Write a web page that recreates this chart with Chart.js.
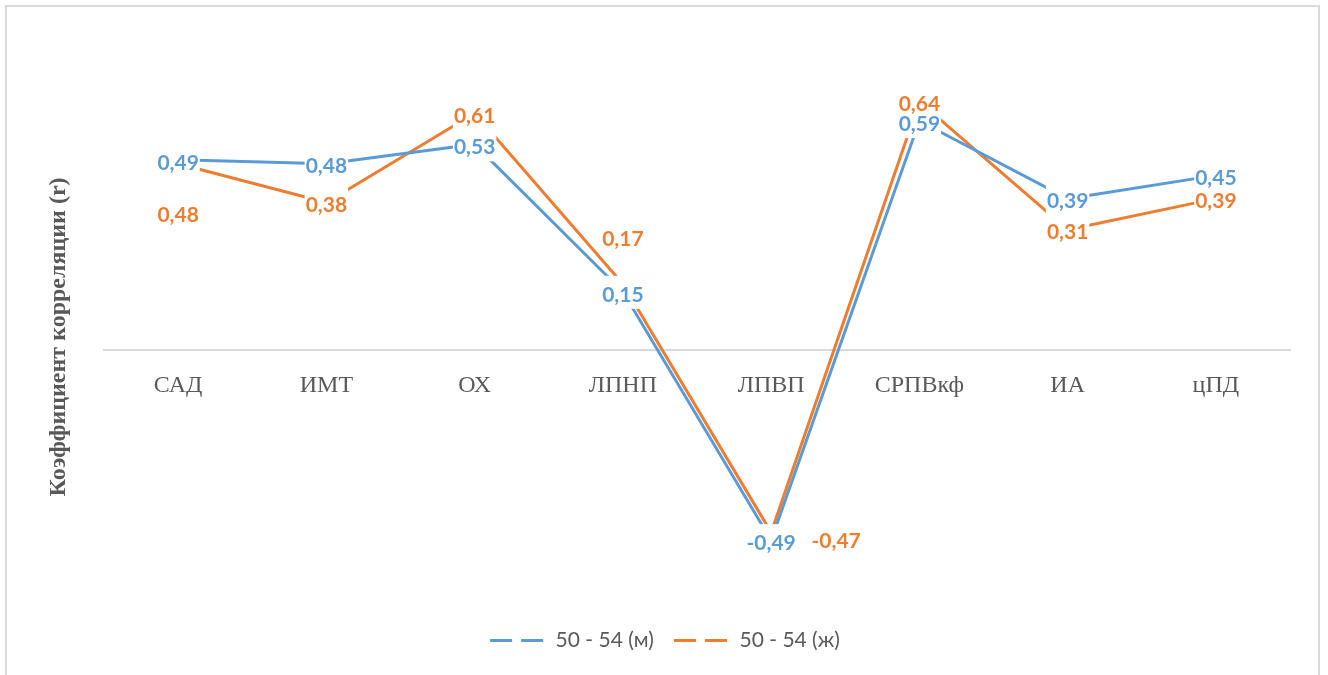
<!DOCTYPE html>
<html>
<head>
<meta charset="utf-8">
<script src="https://cdn.jsdelivr.net/npm/chart.js@4.4.1/dist/chart.umd.min.js"></script>
<style>
  html, body { margin: 0; padding: 0; background: #fff; }
  #frame {
    position: absolute; left: 5px; top: 5px;
    width: 1311px; height: 700px;
    border: 2px solid #dadada;
  }
  #box { position: absolute; left: 0; top: 0; width: 1328px; height: 675px; }
</style>
</head>
<body>
<div id="frame"></div>
<div id="box"><canvas id="corrChart"></canvas></div>
<script>
// Categories and correlation coefficients
const categories = ['САД', 'ИМТ', 'ОХ', 'ЛПНП', 'ЛПВП', 'СРПВкф', 'ИА', 'цПД'];
const menValues = [0.49, 0.48, 0.53, 0.15, -0.49, 0.59, 0.39, 0.45];
const womenValues = [0.48, 0.38, 0.61, 0.17, -0.47, 0.64, 0.31, 0.39];
const seriesNames = ['50 - 54 (м)', '50 - 54 (ж)'];

// Label nudges [dx, dy] in px, per series
const labelShift = [
  [[0, 0], [0, 0], [0, 0], [0, 0], [0, 0], [0, 0], [0, 0], [0, 0]],
  [[0, 49], [0, 0], [0, 0], [0, -48], [65, 6], [0, 0], [0, 0], [0, 0]]
];

const BLUE = '#5B9BD5';
const ORANGE = '#ED7D31';

// Value labels: white boxes first (they cut the lines), then the numbers
const valueLabels = {
  id: 'valueLabels',
  afterDatasetsDraw(chart) {
    const ctx = chart.ctx;
    ctx.save();
    ctx.font = 'bold 21px Lato';
    ctx.textAlign = 'center';
    ctx.textBaseline = 'middle';
    const items = [];
    chart.data.datasets.forEach((ds, di) => {
      chart.getDatasetMeta(di).data.forEach((pt, i) => {
        const txt = ds.data[i].toFixed(2).replace('.', ',');
        const [dx, dy] = labelShift[di][i];
        items.push({ txt, x: pt.x + dx, y: pt.y + dy, color: ds.borderColor });
      });
    });
    ctx.fillStyle = '#fff';
    items.forEach(it => {
      const w = ctx.measureText(it.txt).width + 2;
      ctx.fillRect(it.x - w / 2, it.y - 16, w, 33);
    });
    items.forEach(it => {
      ctx.fillStyle = it.color;
      ctx.fillText(it.txt, it.x, it.y + 3);
    });
    ctx.restore();
  }
};

const ctx = document.getElementById('corrChart').getContext('2d');

const corrChart = new Chart(ctx, {
  type: 'line',
  data: {
    labels: categories,
    datasets: [
      { label: seriesNames[0], data: menValues, borderColor: BLUE, backgroundColor: BLUE },
      { label: seriesNames[1], data: womenValues, borderColor: ORANGE, backgroundColor: ORANGE }
    ]
  },
  options: {
    responsive: true,
    maintainAspectRatio: false,
    animation: false,
    layout: { padding: { left: 40, right: 38, top: 64, bottom: 14 } },
    elements: {
      line: { borderWidth: 3, tension: 0, borderJoinStyle: 'round', borderCapStyle: 'round' },
      point: { radius: 0, hoverRadius: 0 }
    },
    scales: {
      x: {
        position: { y: 0 },
        offset: true,
        grid: { display: false, drawTicks: false },
        border: { display: true, color: '#d9d9d9', width: 2 },
        ticks: {
          padding: 21,
          color: '#595959',
          font: { family: 'Liberation Serif', size: 24 }
        }
      },
      y: {
        min: -0.67,
        max: 0.737,
        grid: { display: false },
        border: { display: false },
        ticks: { display: false },
        afterFit: (scale) => { scale.width = 64; },
        title: {
          display: true,
          text: 'Коэффициент корреляции (r)',
          color: '#595959',
          font: { family: 'Liberation Serif', size: 24, weight: 'bold' }
        }
      }
    },
    plugins: {
      tooltip: { enabled: false },
      legend: {
        position: 'bottom',
        labels: {
          usePointStyle: true,
          pointStyleWidth: 55,
          boxHeight: 10,
          padding: 20,
          color: '#595959',
          font: { family: 'Lato', size: 21 },
          generateLabels(chart) {
            const items = Chart.defaults.plugins.legend.labels.generateLabels(chart);
            return items.map(it => ({ ...it, pointStyle: 'line', lineDash: [22, 9], lineWidth: 3 }));
          }
        }
      }
    }
  },
  plugins: [valueLabels]
});
</script>
</body>
</html>
